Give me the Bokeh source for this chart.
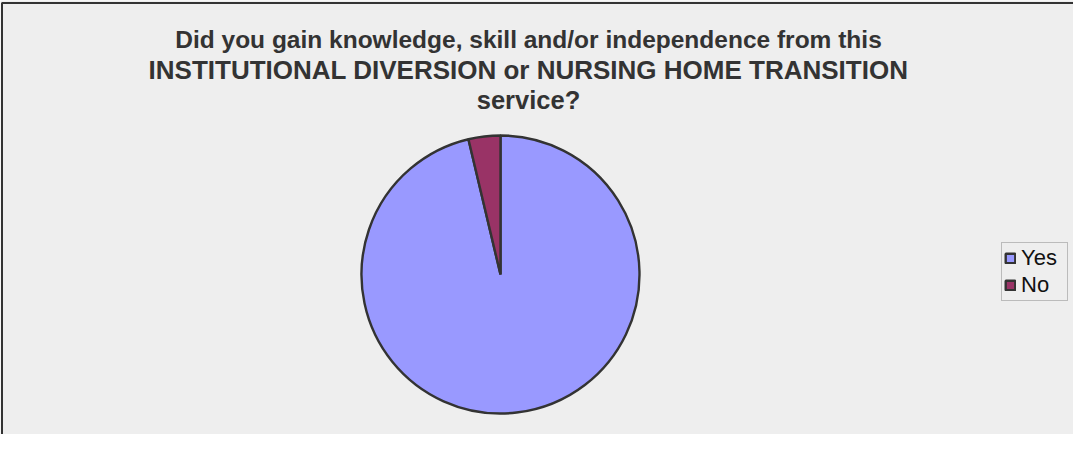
import math
from bokeh.plotting import figure
from bokeh.models import ColumnDataSource, Legend, LegendItem, Range1d
from bokeh.core.properties import value
from bokeh.embed import file_html
from bokeh.resources import INLINE

# Data
categories = ["Yes", "No"]
counts = [26, 1]
colors = ["#9999FF", "#993366"]
title_lines = [
    "Did you gain knowledge, skill and/or independence from this",
    "INSTITUTIONAL DIVERSION or NURSING HOME TRANSITION",
    "service?",
]

W, H = 1073, 434
p = figure(width=W, height=H, output_backend="svg", toolbar_location=None,
           x_range=Range1d(0, W), y_range=Range1d(0, H), min_border=0)
p.axis.visible = False
p.grid.visible = False
p.outline_line_color = None
p.background_fill_color = "#eeeeee"
p.border_fill_color = "#eeeeee"

# Pie: slices start at 12 o'clock, No goes counter-clockwise first (drawn from top)
total = sum(counts)
order = [1, 0]  # No first, then Yes
start = math.pi / 2
starts, ends = {}, {}
for i in order:
    ang = 2 * math.pi * counts[i] / total
    starts[i] = start
    ends[i] = start + ang
    start += ang

src = ColumnDataSource(dict(
    cat=categories,
    start=[starts[i] for i in range(len(categories))],
    end=[ends[i] for i in range(len(categories))],
    color=colors,
))
cx, cy, r = 500, 160, 139
w = p.wedge(x=cx, y=cy, radius=r, start_angle="start", end_angle="end",
            fill_color="color", line_color="#333333", line_width=2.4, source=src)

# Title
ys = [395, 365, 335]
sizes = ["24.5px", "26px", "25.5px"]
for t, y, s in zip(title_lines, ys, sizes):
    p.text(x=[528], y=[y], text=[t], text_align="center", text_baseline="alphabetic",
           text_font=value("Liberation Sans"), text_font_style="bold",
           text_font_size=s, text_color="#333333")

# Border lines (top/left)
p.line(x=[1.5, 1.5, W], y=[0, H - 2.5, H - 2.5], line_color="#333333", line_width=2)

items = [LegendItem(label=categories[i], renderers=[w], index=i) for i in range(len(categories))]
legend = Legend(items=items, location=(1001, 133), orientation="vertical",
                glyph_width=12, glyph_height=12, label_standoff=5,
                label_text_font="Liberation Sans", label_text_font_size="22px",
                label_text_color="#111111", label_height=20, spacing=1, padding=2,
                margin=0, border_line_color="#888888", border_line_width=1,
                background_fill_color="#eeeeee", background_fill_alpha=1.0,
                label_width=44)
p.add_layout(legend, "center")

open("out.html", "w").write(file_html(p, INLINE))
